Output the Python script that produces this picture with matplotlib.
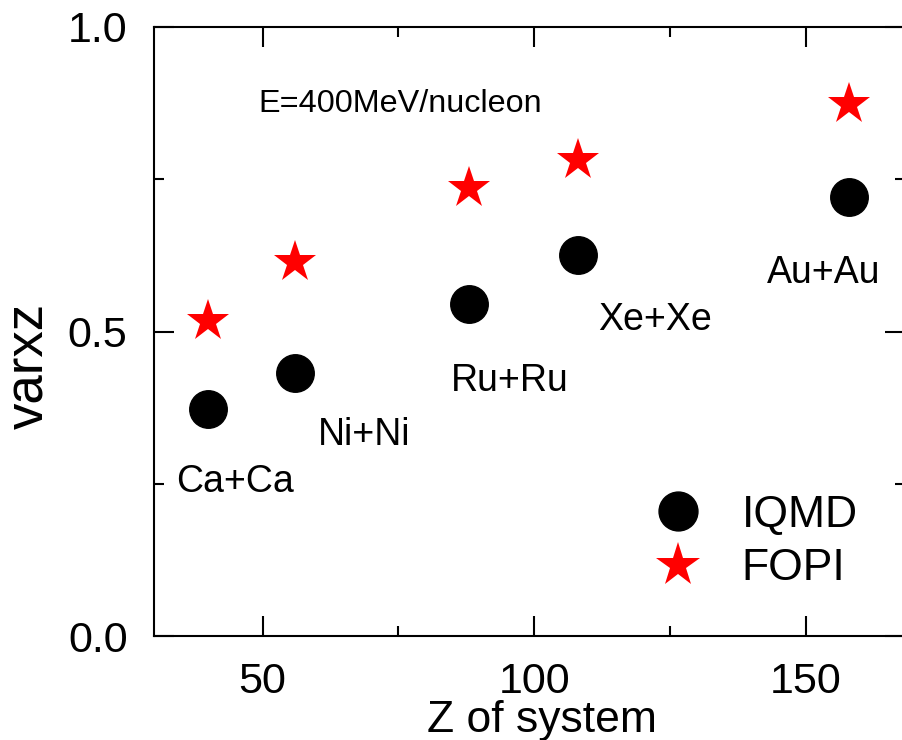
import numpy as np
import matplotlib
matplotlib.use("Agg")
import matplotlib.pyplot as plt
from matplotlib.lines import Line2D

# data
z_system = [40, 56, 88, 108, 158]
iqmd = [0.373, 0.432, 0.545, 0.626, 0.721]
fopi = [0.517, 0.614, 0.736, 0.781, 0.873]
systems = ["Ca+Ca", "Ni+Ni", "Ru+Ru", "Xe+Xe", "Au+Au"]
# where each system label sits (x, y of left/baseline, data units)
label_x = [34.1, 60.2, 84.7, 111.8, 142.9]
label_y = [0.236, 0.314, 0.402, 0.502, 0.580]

plt.rcParams['font.family'] = ['Liberation Sans', 'DejaVu Sans']

fig = plt.figure(figsize=(9.03, 7.40), dpi=100)
ax = fig.add_axes([154/903, 104/740, 751/903, 609/740])

ax.plot(z_system, iqmd, 'o', color='black', markersize=27, linestyle='none')
ax.plot(z_system, fopi, '*', color='red', markersize=32, markeredgewidth=0, linestyle='none')

for s, x, y in zip(systems, label_x, label_y):
    ax.text(x, y, s, fontsize=27, ha='left', va='baseline')

ax.text(49.3, 0.860, "E=400MeV/nucleon", fontsize=23.3, ha='left', va='baseline')

ax.set_xticks([50, 100, 150])
ax.set_xticks([25, 75, 125], minor=True)
ax.set_yticks([0.0, 0.5, 1.0])
ax.set_yticklabels(["0.0", "0.5", "1.0"])
ax.set_yticks([0.25, 0.75], minor=True)
ax.set_xlim(30, 168.3)
ax.set_ylim(0, 1.0)

for sp in ax.spines.values():
    sp.set_linewidth(1.5)
ax.tick_params(which='both', direction='in', top=True, right=True, width=1.5)
ax.tick_params(which='major', length=14.5, labelsize=31, pad=19)
ax.tick_params(which='minor', length=7.2)

ax.set_xlabel("Z of system", fontsize=32)
ax.xaxis.set_label_coords(0.517, -0.105)
ax.set_ylabel("varxz", fontsize=38)
ax.yaxis.set_label_coords(-0.133, 0.443)

handles = [Line2D([], [], marker='o', color='black', markersize=28, linestyle='none'),
           Line2D([], [], marker='*', color='red', markersize=33, markeredgewidth=0, linestyle='none')]
ax.legend(handles, ["IQMD", "FOPI"], fontsize=32, frameon=False,
          loc='upper left', bbox_to_anchor=(657/903, 1 - 495/740),
          bbox_transform=fig.transFigure, borderpad=0, borderaxespad=0,
          handlelength=0.95, handletextpad=0.95, labelspacing=0.28)

fig.savefig("out.png", dpi=100)
